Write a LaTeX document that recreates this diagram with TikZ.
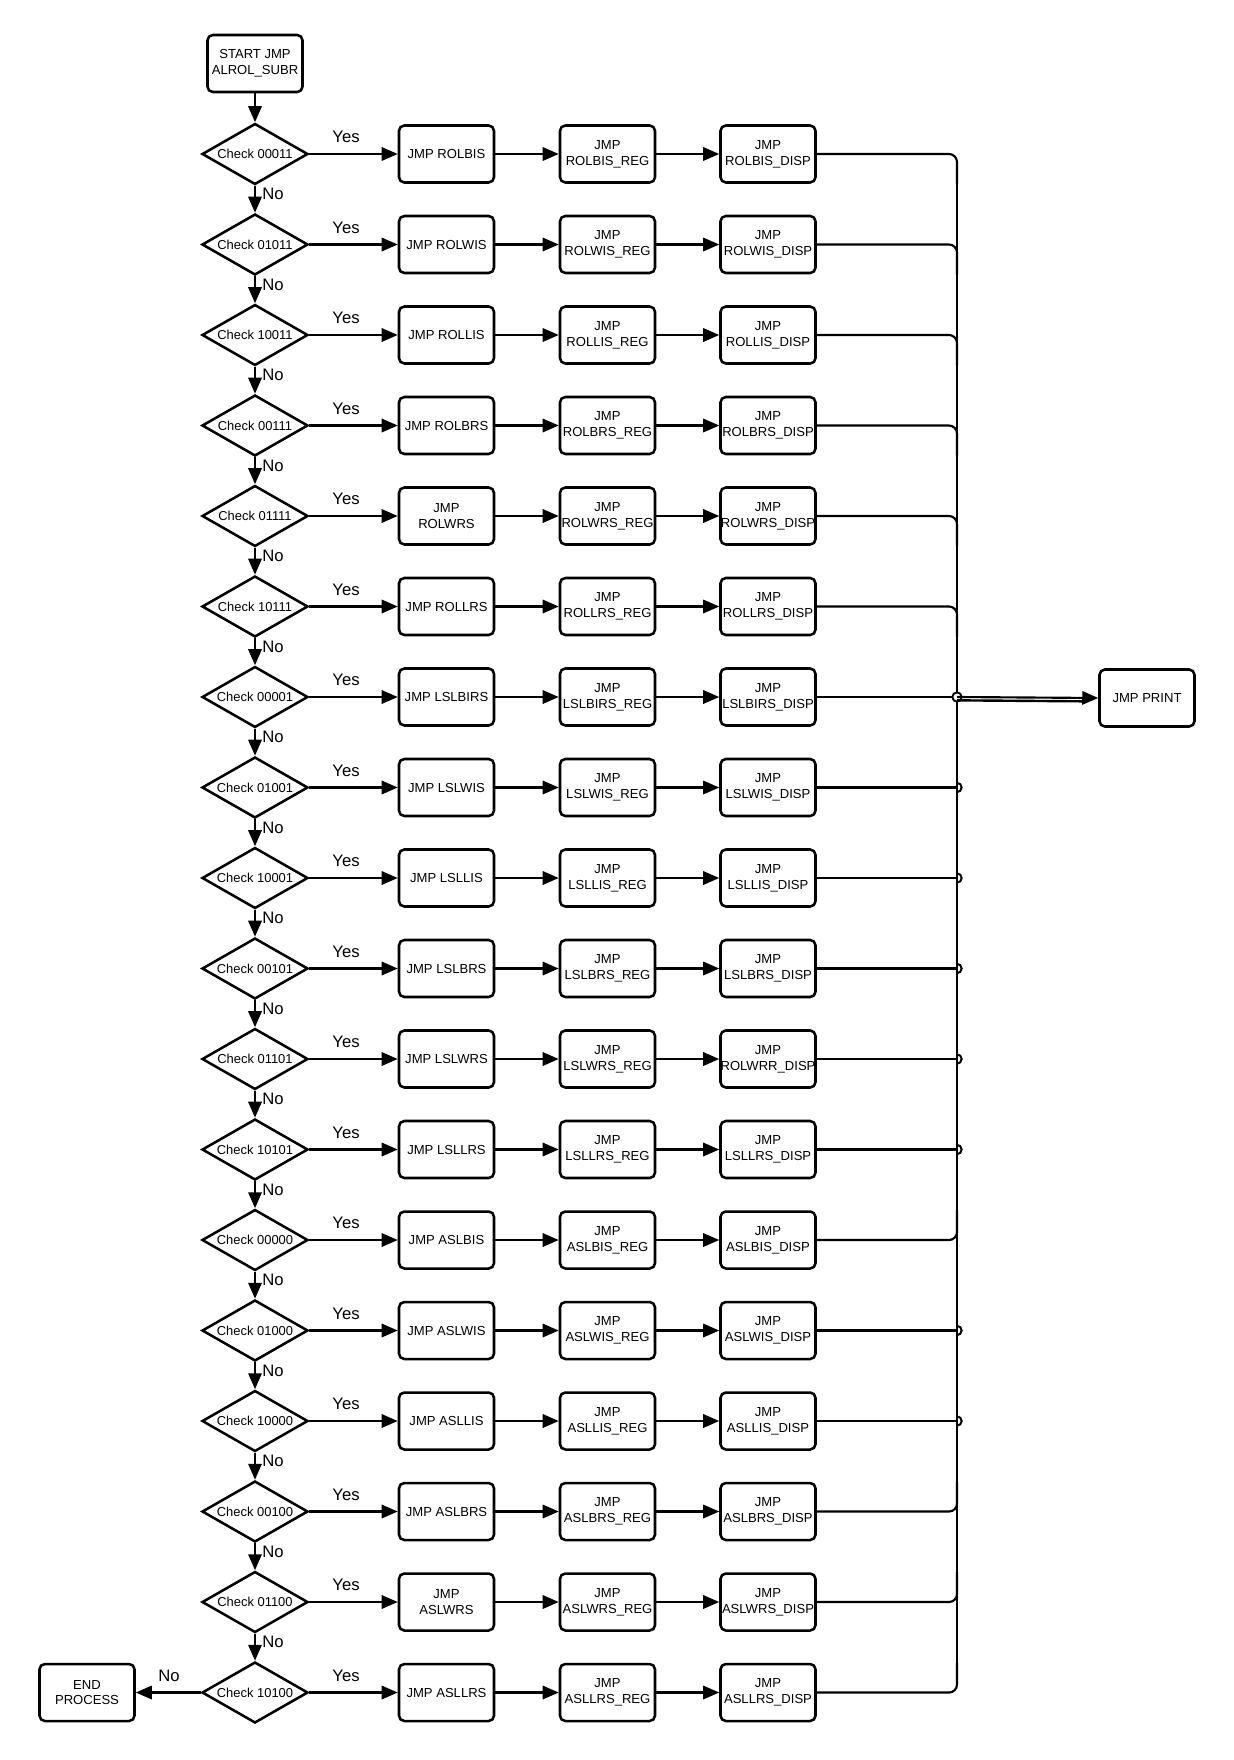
\documentclass[tikz,border=0pt]{standalone}
\usepackage{fontspec}
\setmainfont{Liberation Sans}
\usetikzlibrary{arrows.meta,shapes.geometric,calc}
\begin{document}
\begin{tikzpicture}[x=0.75pt,y=-0.75pt,
  box/.style={draw,line width=1.9pt,rounded corners=4pt,minimum width=71.25pt,minimum height=42.75pt,inner sep=0pt,align=center,font=\fontsize{9.8}{11.8}\selectfont},
  dec/.style={draw,line width=1.9pt,shape=diamond,aspect=1.74,minimum width=79.5pt,minimum height=45.75pt,inner sep=0pt,font=\fontsize{9.7}{11.8}\selectfont},
  conn/.style={line width=1.6pt,-{Triangle[length=12pt,width=10pt]}},
  wire/.style={line width=1.6pt},
  lab/.style={font=\fontsize{12.5}{14}\selectfont,inner sep=0pt}]
\useasboundingbox (0,0) rectangle (1234,1760);
\node[box] (start) at (255,63.5) {START JMP\\ALROL\_SUBR};
\foreach \i/\code/\a/\b/\c in {
  0/00011/{JMP ROLBIS}/ROLBIS\_REG/ROLBIS\_DISP,
  1/01011/{JMP ROLWIS}/ROLWIS\_REG/ROLWIS\_DISP,
  2/10011/{JMP ROLLIS}/ROLLIS\_REG/ROLLIS\_DISP,
  3/00111/{JMP ROLBRS}/ROLBRS\_REG/ROLBRS\_DISP,
  4/01111/{JMP\\ROLWRS}/ROLWRS\_REG/ROLWRS\_DISP,
  5/10111/{JMP ROLLRS}/ROLLRS\_REG/ROLLRS\_DISP,
  6/00001/{JMP LSLBIRS}/LSLBIRS\_REG/LSLBIRS\_DISP,
  7/01001/{JMP LSLWIS}/LSLWIS\_REG/LSLWIS\_DISP,
  8/10001/{JMP LSLLIS}/LSLLIS\_REG/LSLLIS\_DISP,
  9/00101/{JMP LSLBRS}/LSLBRS\_REG/LSLBRS\_DISP,
  10/01101/{JMP LSLWRS}/LSLWRS\_REG/ROLWRR\_DISP,
  11/10101/{JMP LSLLRS}/LSLLRS\_REG/LSLLRS\_DISP,
  12/00000/{JMP ASLBIS}/ASLBIS\_REG/ASLBIS\_DISP,
  13/01000/{JMP ASLWIS}/ASLWIS\_REG/ASLWIS\_DISP,
  14/10000/{JMP ASLLIS}/ASLLIS\_REG/ASLLIS\_DISP,
  15/00100/{JMP ASLBRS}/ASLBRS\_REG/ASLBRS\_DISP,
  16/01100/{JMP\\ASLWRS}/ASLWRS\_REG/ASLWRS\_DISP,
  17/10100/{JMP ASLLRS}/ASLLRS\_REG/ASLLRS\_DISP}{
  \pgfmathsetmacro\yy{154+90.5*\i}
  \node[dec] (d\i) at (255,\yy) {Check \code};
  \node[box] (a\i) at (446.5,\yy) {\a};
  \node[box] (r\i) at (607.5,\yy) {JMP\\\b};
  \node[box] (c\i) at (768,\yy) {JMP\\\c};
  \coordinate (b\i) at (957,\yy);
  \node[lab] (yes\i) at (346,\yy-17) {Yes};
  \draw[conn] (d\i.east) -- (a\i.west);
  \draw[conn] (a\i.east) -- (r\i.west);
  \draw[conn] (r\i.east) -- (c\i.west);
}
\node[box] (print) at (1147,698) {JMP PRINT};
\node[box] (end) at (87,1692.5) {END\\PROCESS};
% main chain
\draw[conn] (start.south) -- (d0.north);
\foreach \i [evaluate=\i as \j using int(\i+1)] in {0,...,16}{
  \draw[conn] (d\i.south) -- (d\j.north);
  \node[lab,anchor=west] (no\i) at (262,194+90.5*\i) {No};
}
\draw[conn] (d17.west) -- (end.east);
\node[lab] (noend) at (169,1676) {No};
% bus
\draw[line width=2.1pt] (957,162) -- (957,1684);
\foreach \i in {0,...,5}
  \draw[wire,rounded corners=6pt] (c\i.east) -- (b\i) -- ++(0,30);
\foreach \i in {12,15,16,17}
  \draw[wire,rounded corners=6pt] (c\i.east) -- (b\i) -- ++(0,-30);
\foreach \i in {6,...,11,13,14}
  \draw[wire] (c\i.east) -- (b\i);
\foreach \i in {7,...,11,13,14}
  \draw[line width=1.5pt] ([yshift=3.5pt]b\i) arc[start angle=90,end angle=-90,radius=3.5pt];
\draw[line width=1.4pt,fill=white] (b6) circle[radius=3.5pt];
\draw[conn] (b6) -- (print.west);
\draw[line width=1.8pt] ([yshift=-2.5pt]b6) -- ([yshift=-2.5pt,xshift=-10pt]print.west);
\end{tikzpicture}
\end{document}
